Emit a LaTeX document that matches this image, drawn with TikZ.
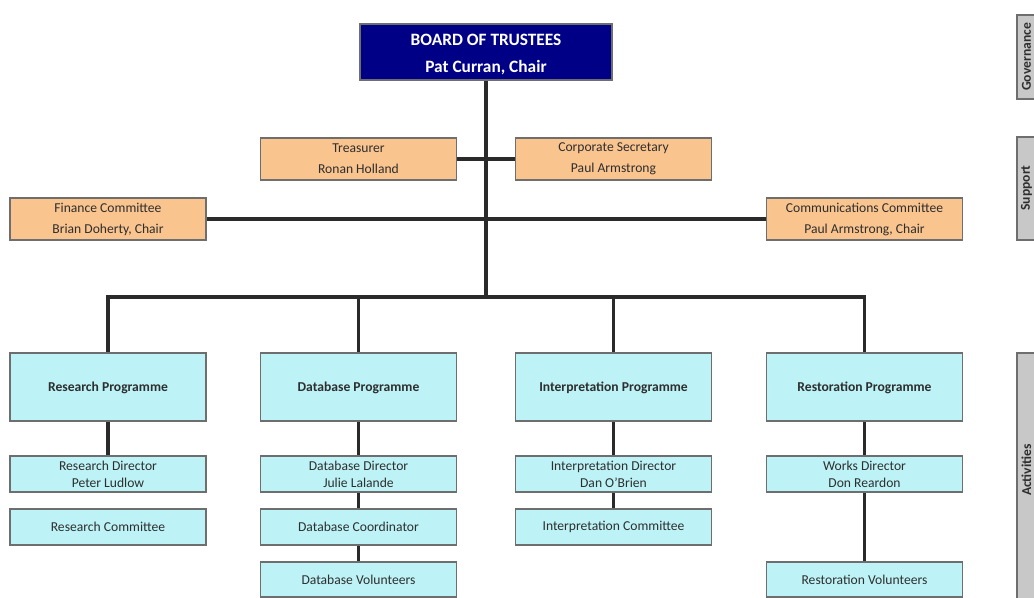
\documentclass[tikz,border=0pt]{standalone}
\usepackage{fontspec}
\setmainfont{Carlito}
\usetikzlibrary{backgrounds}
\definecolor{navy}{HTML}{000086}
\definecolor{peach}{HTML}{FAC48F}
\definecolor{aqua}{HTML}{BDF3F7}
\definecolor{sidegray}{HTML}{C8C8C8}
\definecolor{boxline}{HTML}{6E6E6E}
\definecolor{conn}{HTML}{2A2A2A}
\definecolor{txt}{HTML}{2E2E2E}
\tikzset{
  basebox/.style={draw=boxline, line width=0.9pt, inner sep=0pt, outer sep=0pt,
    minimum width=147pt, align=center, text=txt},
  boardbox/.style={draw=boxline, line width=0.9pt, fill=navy, inner sep=0pt, outer sep=0pt,
    minimum width=189pt, minimum height=42pt},
  boardtext/.style={text=white, inner sep=0pt, align=center,
    font=\fontsize{13}{20.25}\selectfont\bfseries},
  supbox/.style={basebox, fill=peach, minimum height=31.5pt, font=\fontsize{10.2}{15.75}\selectfont},
  progbox/.style={basebox, fill=aqua, minimum height=51pt, text height=9pt, text depth=2pt,
    font=\fontsize{10.2}{12.75}\selectfont\bfseries},
  dirbox/.style={basebox, fill=aqua, minimum height=27pt, font=\fontsize{10.2}{12.75}\selectfont},
  sidebox/.style={draw=boxline, line width=0.9pt, fill=sidegray},
  sidetext/.style={rotate=90, text=txt, inner sep=0pt, font=\fontsize{10.2}{12}\selectfont\bfseries},
  connector/.style={draw=conn, line width=2.3pt, line join=miter}
}
\begin{document}
\begin{tikzpicture}[x=0.75pt,y=-0.75pt]
\useasboundingbox (0,0) rectangle (1034,597);
\clip (0,0) rectangle (1034,597);

% side bands
\draw[sidebox] (1017,15) rectangle (1060,99);
\draw[sidebox] (1017,137) rectangle (1060,240);
\draw[sidebox] (1017,353) rectangle (1060,640);
\node[sidetext] (gov) at (1026.5,57) {Governance};
\node[sidetext] (sup) at (1026.5,188) {Support};
\node[sidetext] (act) at (1026.5,470) {Activities};

% board
\node[boardbox] (board) at (486,52) {};
\node[boardtext] (boardlbl) at ([yshift=-2.2pt]board.center) {BOARD OF TRUSTEES\\Pat Curran, Chair};

% support
\node[supbox] (treas) at (358.5,159) {Treasurer\\Ronan Holland};
\node[supbox] (csec) at (613.5,159) {Corporate Secretary\\Paul Armstrong};
\node[supbox] (fin) at (108,219) {Finance Committee\\Brian Doherty, Chair};
\node[supbox] (comm) at (864.5,219) {Communications Committee\\Paul Armstrong, Chair};

% programmes
\node[progbox] (rp) at (108,387) {Research Programme};
\node[progbox] (dp) at (358.5,387) {Database Programme};
\node[progbox] (ip) at (613.5,387) {Interpretation Programme};
\node[progbox] (sp) at (864.5,387) {Restoration Programme};

% directors
\node[dirbox] (rd) at (108,474) {Research Director\\Peter Ludlow};
\node[dirbox] (dd) at (358.5,474) {Database Director\\Julie Lalande};
\node[dirbox] (id) at (613.5,474) {Interpretation Director\\Dan O'Brien};
\node[dirbox] (sd) at (864.5,474) {Works Director\\Don Reardon};

% committees / coordinators
\node[dirbox] (rc) at (108,527) {Research Committee};
\node[dirbox] (dc) at (358.5,527) {Database Coordinator};
\node[dirbox] (ic) at (613.5,527) {Interpretation Committee};

% volunteers
\node[dirbox, minimum height=26.25pt] (dv) at (358.5,579.5) {Database Volunteers};
\node[dirbox, minimum height=26.25pt] (sv) at (864.5,579.5) {Restoration Volunteers};

\coordinate (bus) at (486,297);

\begin{pgfonlayer}{background}
\draw[connector] (board.south) -- (bus);
\draw[connector] (treas.east) -- (csec.west);
\draw[connector] (fin.east) -- (comm.west);
\draw[connector] (rp.north) |- (bus);
\draw[connector] (dp.north) |- (bus);
\draw[connector] (ip.north) |- (bus);
\draw[connector] (sp.north) |- (bus);
\draw[connector] (rp.south) -- (rd.north);
\draw[connector] (dp.south) -- (dd.north);
\draw[connector] (ip.south) -- (id.north);
\draw[connector] (sp.south) -- (sd.north);
\draw[connector] (dd.south) -- (dc.north);
\draw[connector] (dc.south) -- (dv.north);
\draw[connector] (id.south) -- (ic.north);
\draw[connector] (sd.south) -- (sv.north);
\end{pgfonlayer}
\end{tikzpicture}
\end{document}
